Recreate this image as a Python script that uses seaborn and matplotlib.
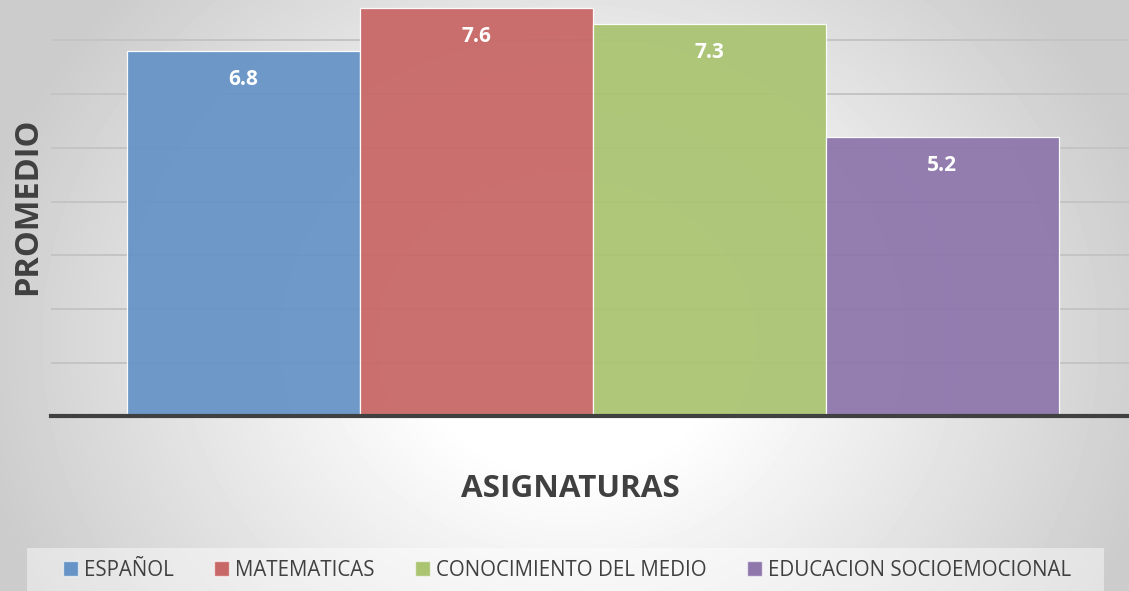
import matplotlib
matplotlib.use("Agg")
import matplotlib.pyplot as plt
import numpy as np
import pandas as pd
import seaborn as sns
from matplotlib.patches import Patch, Rectangle

# data
subjects = ["ESPAÑOL", "MATEMATICAS", "CONOCIMIENTO DEL MEDIO", "EDUCACION SOCIOEMOCIONAL"]
promedios = [6.8, 7.6, 7.3, 5.2]
bar_colors = ["#6794C6", "#C86866", "#AAC472", "#8F77AC"]
grid_ticks = [1, 2, 3, 4, 5, 6, 7]

x_title = "ASIGNATURAS"
y_title = "PROMEDIO"

sns.set_theme(style="white")
plt.rcParams["font.family"] = ["Open Sans", "DejaVu Sans"]

W, H = 1129, 591
fig = plt.figure(figsize=(W / 100, H / 100), dpi=100)

# radial grey-to-white background
bg = fig.add_axes([0, 0, 1, 1], zorder=-10)
yy, xx = np.mgrid[0:H, 0:W]
r = np.sqrt(((xx - 570) / 600.0) ** 2 + ((yy - 340) / 520.0) ** 2)
shade = 1 - 0.2 * np.clip((r - 0.25) / 0.75, 0, 1)
bg.imshow(shade, cmap="gray", vmin=0, vmax=1, aspect="auto", extent=(0, W, H, 0))
bg.set_axis_off()

# legend band at the bottom
fig.patches.append(Rectangle((27 / W, 0), (1104 - 27) / W, (H - 548) / H,
                             transform=fig.transFigure, facecolor="white",
                             alpha=0.45, edgecolor="none", zorder=-5))

left, bottom = 51 / W, 1 - 416.4 / H
ax = fig.add_axes([left, bottom, 1 - left, 1 - bottom])
ax.patch.set_alpha(0)

df = pd.DataFrame({"asignatura": subjects, "promedio": promedios})
sns.barplot(data=df, x="asignatura", y="promedio", hue="asignatura",
            palette=bar_colors, saturation=1, width=1.0, dodge=False, legend=False,
            alpha=0.95, edgecolor=(1, 1, 1, 0.45), linewidth=0.9, ax=ax)

for i, v in enumerate(promedios):
    ax.text(i, v - 0.53, f"{v:.1f}", ha="center", va="center", color="white",
            fontsize=15, fontweight="bold")

ax.set_xlim(-0.826, 3.802)
ax.set_ylim(0, 7.754)
ax.set_yticks(grid_ticks)
ax.set_xticks([])
ax.tick_params(left=False, labelleft=False)
ax.yaxis.grid(True, color="#c4c4c4", linewidth=1.4)
ax.set_axisbelow(True)
for s in ["top", "right", "left"]:
    ax.spines[s].set_visible(False)
ax.spines["bottom"].set_color("#404040")
ax.spines["bottom"].set_linewidth(3)

ax.set_xlabel(x_title, fontsize=22.6, fontweight="bold", color="#404040", va="baseline")
ax.xaxis.set_label_coords((570 - 51) / 1078, -(497 - 416.4) / 416.4)
ax.set_ylabel(y_title, fontsize=23.5, fontweight="bold", color="#404040", va="baseline")
ax.yaxis.set_label_coords((36 - 51) / 1078, (416.4 - 206) / 416.4)

handles = [Patch(facecolor=c, edgecolor=(1, 1, 1, 0.6), label=s)
           for s, c in zip(subjects, bar_colors)]
fig.legend(handles=handles, loc="center", bbox_to_anchor=(567 / W, 1 - 570 / H),
           ncol=4, frameon=False, fontsize=14.8, labelcolor="#404040",
           handlelength=0.73, handleheight=0.73, handletextpad=0.3,
           columnspacing=1.95, borderpad=0)

fig.savefig("out.png", dpi=100)
